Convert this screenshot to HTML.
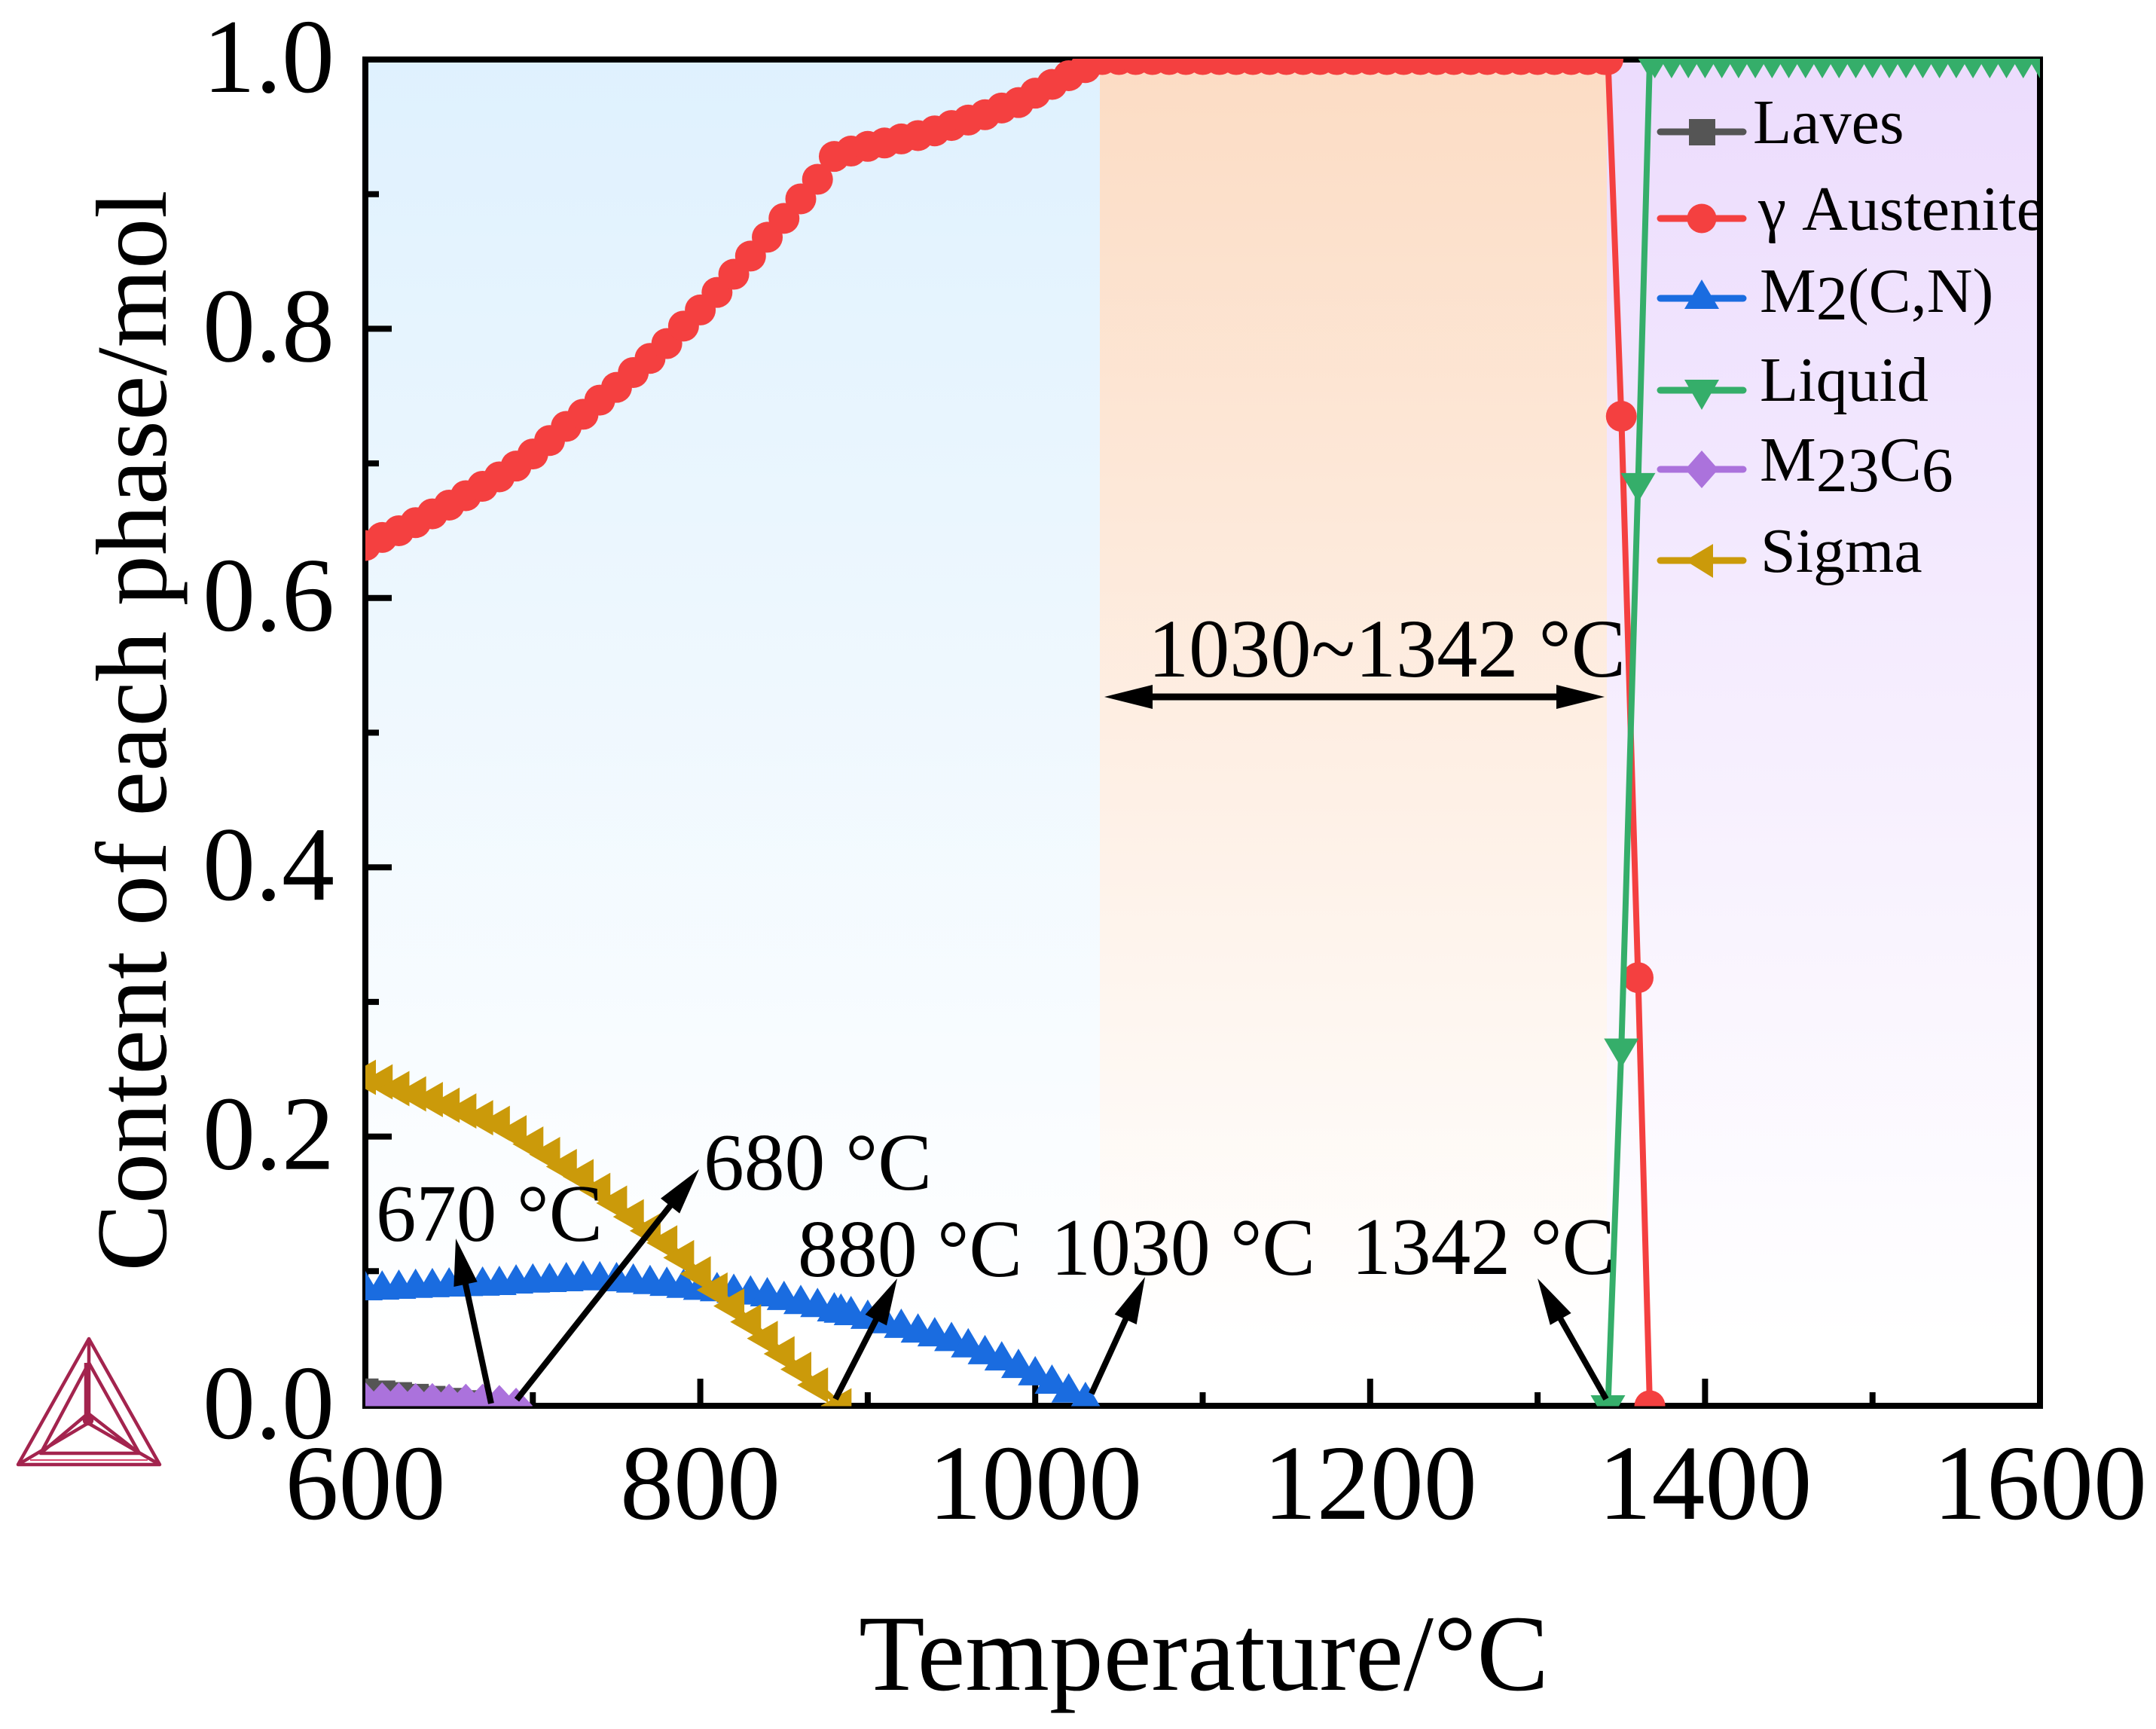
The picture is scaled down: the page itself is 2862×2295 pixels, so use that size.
<!DOCTYPE html>
<html>
<head>
<meta charset="utf-8">
<title>Content of each phase vs temperature</title>
<style>
html,body{margin:0;padding:0;background:#fff;}
svg{display:block;}
text{font-family:"Liberation Serif",serif;fill:#000;}
</style>
</head>
<body>
<svg id="chart" xmlns="http://www.w3.org/2000/svg" width="2862" height="2295" viewBox="0 0 2862 2295">
<defs>
<linearGradient id="gBlue" x1="0" y1="0" x2="0" y2="1"><stop offset="0" stop-color="#dff1fe"/><stop offset="0.95" stop-color="#ffffff"/></linearGradient>
<linearGradient id="gPeach" x1="0" y1="0" x2="0" y2="1"><stop offset="0" stop-color="#fcdcc4"/><stop offset="0.95" stop-color="#ffffff"/></linearGradient>
<linearGradient id="gPurple" x1="0" y1="0" x2="0" y2="1"><stop offset="0" stop-color="#ecdcfd"/><stop offset="0.95" stop-color="#ffffff"/></linearGradient>
<clipPath id="plotClip"><rect x="485" y="78" width="2223" height="1788.5"/></clipPath>
<clipPath id="legendClip"><rect x="2190" y="80" width="516" height="800"/></clipPath>
</defs>

<g>
<rect x="485" y="79" width="975" height="1787" fill="url(#gBlue)"/>
<rect x="1460" y="79" width="673" height="1787" fill="url(#gPeach)"/>
<rect x="2133" y="79" width="575" height="1787" fill="url(#gPurple)"/>
</g>

<g id="axes"></g>
<g id="series" clip-path="url(#plotClip)"></g>

<g id="legend">
<g>
<line x1="2204" y1="175" x2="2314" y2="175" stroke="#555555" stroke-width="9" stroke-linecap="round"/>
<rect x="2242" y="158" width="35" height="35" fill="#555555"/>
</g>
<g>
<line x1="2204" y1="290" x2="2314" y2="290" stroke="#f44040" stroke-width="9" stroke-linecap="round"/>
<circle cx="2259" cy="290" r="19.5" fill="#f44040"/>
</g>
<g>
<line x1="2204" y1="396" x2="2314" y2="396" stroke="#1a6ce0" stroke-width="9" stroke-linecap="round"/>
<polygon points="2259,371 2282,410 2236,410" fill="#1a6ce0"/>
</g>
<g>
<line x1="2204" y1="518" x2="2314" y2="518" stroke="#35ae6a" stroke-width="9" stroke-linecap="round"/>
<polygon points="2236,504 2282,504 2259,544" fill="#35ae6a"/>
</g>
<g>
<line x1="2204" y1="623" x2="2314" y2="623" stroke="#ab72dc" stroke-width="9" stroke-linecap="round"/>
<polygon points="2259,598 2281,623 2259,648 2237,623" fill="#ab72dc"/>
</g>
<g>
<line x1="2204" y1="744" x2="2314" y2="744" stroke="#cb9a0a" stroke-width="9" stroke-linecap="round"/>
<polygon points="2237,744 2274,722 2274,767" fill="#cb9a0a"/>
</g>
<g clip-path="url(#legendClip)" font-size="84">
<text x="2327" y="190">Laves</text>
<text x="2334" y="305">γ Austenite</text>
<text x="2336" y="414">M<tspan dy="10">2</tspan><tspan dy="-10">(C,N)</tspan></text>
<text x="2336" y="532">Liquid</text>
<text x="2336" y="638">M<tspan dy="14">23</tspan><tspan dy="-14">C</tspan><tspan dy="14">6</tspan></text>
<text x="2337" y="759">Sigma</text>
</g>
</g>

<g id="annotations">
<text x="499" y="1647" font-size="108" textLength="301" lengthAdjust="spacingAndGlyphs">670 °C</text>
<text x="934" y="1579" font-size="108" textLength="303" lengthAdjust="spacingAndGlyphs">680 °C</text>
<text x="1059" y="1694" font-size="108" textLength="298" lengthAdjust="spacingAndGlyphs">880 °C</text>
<text x="1395" y="1692" font-size="108" textLength="351" lengthAdjust="spacingAndGlyphs">1030 °C</text>
<text x="1794" y="1691" font-size="108" textLength="350" lengthAdjust="spacingAndGlyphs">1342 °C</text>
<text x="1524" y="898" font-size="110" textLength="634" lengthAdjust="spacingAndGlyphs">1030~1342 °C</text>
</g>

<text transform="translate(220,970) rotate(-90)" text-anchor="middle" font-size="134" textLength="1435" lengthAdjust="spacingAndGlyphs">Content of each phase/mol</text>
<text x="1598" y="2243" text-anchor="middle" font-size="144" textLength="916" lengthAdjust="spacingAndGlyphs">Temperature/°C</text>

<g fill="none" stroke="#a3244e" stroke-width="4.5" stroke-linejoin="round">
<polygon points="118,1777 212,1944 24,1944"/>
<polygon points="118,1809 185,1929 54,1929"/>
<line x1="118" y1="1777" x2="118" y2="1889"/>
<line x1="114" y1="1809" x2="114" y2="1885"/>
<line x1="24" y1="1944" x2="117" y2="1889"/>
<line x1="212" y1="1944" x2="117" y2="1889"/>
<line x1="54" y1="1929" x2="117" y2="1876"/>
<line x1="185" y1="1929" x2="117" y2="1876"/>
<line x1="40" y1="1938" x2="196" y2="1938" stroke="#d9486f" stroke-width="2"/>
<circle cx="117" cy="1885" r="5" fill="#a3244e"/>
</g>

<script>
var temperaturesAustenite = [600,610,620,630,640,650,660,670,680,690,700,710,720,730,740,750,760,770,780,790,800,810,820,830,840,850,860,870,880,890,900,910,920,930,940,950,960,970,980,990,1000,1010,1020,1030,1040,1050,1060,1070,1080,1090,1100,1110,1120,1130,1140,1150,1160,1170,1180,1190,1200,1210,1220,1230,1240,1250,1260,1270,1280,1290,1300,1310,1320,1330,1340,1342,1350,1360,1367];
var valuesAustenite = [.639,.645,.650,.656,.6625,.669,.676,.683,.690,.698,.707,.717,.7275,.7365,.747,.7565,.7675,.778,.789,.802,.814,.827,.8405,.854,.868,.882,.8965,.911,.928,.932,.9355,.938,.941,.9435,.947,.951,.955,.959,.964,.968,.975,.9815,.988,.994,1,1,1,1,1,1,1,1,1,1,1,1,1,1,1,1,1,1,1,1,1,1,1,1,1,1,1,1,1,1,1,1,.735,.318,0];

var temperaturesLiquid = [1342,1350,1360,1367,1370,1380,1390,1400,1410,1420,1430,1440,1450,1460,1470,1480,1490,1500,1510,1520,1530,1540,1550,1560,1570,1580,1590,1600];
var valuesLiquid = [0,.265,.685,1,1,1,1,1,1,1,1,1,1,1,1,1,1,1,1,1,1,1,1,1,1,1,1,1];

var temperaturesM2CN = [600,610,620,630,640,650,660,670,680,690,700,710,720,730,740,750,760,770,780,790,800,810,820,830,840,850,860,870,880,884,890,900,910,920,930,940,950,960,970,980,990,1000,1010,1020,1030,1032];
var valuesM2CN = [.0862,.0867,.0873,.088,.0885,.089,.0893,.0896,.0901,.0912,.0919,.0923,.0929,.094,.0936,.0929,.0919,.0908,.0895,.088,.0865,.0855,.0843,.083,.0817,.079,.076,.0737,.0705,.0695,.0677,.065,.0617,.0583,.0548,.052,.0485,.0438,.0387,.0341,.0285,.023,.0168,.0102,.0039,0];

var temperaturesSigma = [600,610,620,630,640,650,660,670,680,690,700,710,720,730,740,750,760,770,780,790,800,810,820,830,840,850,860,870,884];
var valuesSigma = [.244,.2406,.2356,.2317,.2275,.2233,.219,.214,.2098,.2028,.1944,.1866,.1777,.1702,.16,.1505,.1404,.13,.121,.11,.098,.086,.0741,.0623,.05,.0386,.0271,.0154,0];

var temperaturesLaves = [600,610,620,630,640,650,660,670];
var valuesLaves = [.0105,.009,.0078,.0065,.005,.0035,.0018,0];

var temperaturesM23C6 = [600,610,620,630,640,650,660,670,680,690];
var valuesM23C6 = [.004,.004,.004,.0035,.0035,.003,.003,.003,.002,0];

var xMajorTicks = [600,800,1000,1200,1400,1600];
var xMinorTicks = [700,900,1100,1300,1500];
var yMajorTicks = [0,0.2,0.4,0.6,0.8,1.0];
var yMinorTicks = [0.1,0.3,0.5,0.7,0.9];
var xTickLabels = ['600','800','1000','1200','1400','1600'];
var yTickLabels = ['0.0','0.2','0.4','0.6','0.8','1.0'];

var arrowTails = [[675.1,.0017],[690.4,.0045],[880.7,.005],[1033.6,.009],[1340.9,.005]];
var arrowTips = [[654,.1242],[799.3,.1757],[917.6,.0946],[1065.6,.0957],[1300,.0946]];
var rangeArrowTemperatures = [1041.3,1340];
var rangeArrowValue = .5266;

var NS = 'http://www.w3.org/2000/svg';
function xs(t){ return 485 + (t - 600) * 2.223; }
function ys(v){ return 1866 - v * 1787; }
function mk(tag, attrs, parent){
  var el = document.createElementNS(NS, tag);
  for (var k in attrs) el.setAttribute(k, attrs[k]);
  parent.appendChild(el);
  return el;
}

var axes = document.getElementById('axes');
var series = document.getElementById('series');
var annotations = document.getElementById('annotations');

function drawTicks(){
  xMajorTicks.forEach(function(t, i){
    var tick = mk('line', {x1: xs(t), x2: xs(t), y1: 1866, y2: 1830, stroke: '#000', 'stroke-width': 8}, axes);
    
    
    var lab = mk('text', {x: xs(t), y: 2016, 'text-anchor': 'middle', 'font-size': 142}, axes);
    lab.textContent = xTickLabels[i];
    
    
  });
  xMinorTicks.forEach(function(t){
    var tick = mk('line', {x1: xs(t), x2: xs(t), y1: 1866, y2: 1848, stroke: '#000', 'stroke-width': 8}, axes);
    
    
  });
  yMajorTicks.forEach(function(v, i){
    var tick = mk('line', {x1: 485, x2: 520, y1: ys(v), y2: ys(v), stroke: '#000', 'stroke-width': 8}, axes);
    
    
    var lab = mk('text', {x: 444, y: ys(v) + 43, 'text-anchor': 'end', 'font-size': 140}, axes);
    lab.textContent = yTickLabels[i];
    
    
  });
  yMinorTicks.forEach(function(v){
    var tick = mk('line', {x1: 485, x2: 503, y1: ys(v), y2: ys(v), stroke: '#000', 'stroke-width': 8}, axes);
    
    
  });
  var frame = mk('rect', {x: 485, y: 79, width: 2223, height: 1787, fill: 'none', stroke: '#000', 'stroke-width': 8}, axes);
  
  
}

function marker(shape, x, y, color, parent){
  if (shape === 'circle') return mk('circle', {cx: x, cy: y, r: 20.5, fill: color}, parent);
  if (shape === 'square') return mk('rect', {x: x - 17.5, y: y - 17.5, width: 35, height: 35, fill: color}, parent);
  var pts;
  if (shape === 'up') pts = [[x, y - 25], [x + 23, y + 14], [x - 23, y + 14]];
  if (shape === 'down') pts = [[x - 23, y - 14], [x + 23, y - 14], [x, y + 25]];
  if (shape === 'diamond') pts = [[x, y - 24], [x + 22, y], [x, y + 24], [x - 22, y]];
  if (shape === 'left') pts = [[x - 27, y], [x + 14, y - 23.5], [x + 14, y + 23.5]];
  return mk('polygon', {points: pts.map(function(p){ return p.join(','); }).join(' '), fill: color}, parent);
}

function drawSeries(g, temps, vals, color, shape){
  var d = temps.map(function(t, i){ return xs(t) + ',' + ys(vals[i]); }).join(' ');
  var line = mk('polyline', {points: d, fill: 'none', stroke: color, 'stroke-width': 8, 'stroke-linejoin': 'round'}, g);
  
  
  temps.forEach(function(t, i){
    var m = marker(shape, xs(t), ys(vals[i]), color, g);
    
    
  });
}
function addGroup(name){
  var g = mk('g', {}, series);
  
  
  return g;
}

function arrowHead(tipX, tipY, ux, uy, len, half, parent){
  var bx = tipX - ux * len, by = tipY - uy * len;
  var nx = -uy, ny = ux;
  var head = mk('polygon', {points: tipX + ',' + tipY + ' ' + (bx + nx * half) + ',' + (by + ny * half) + ' ' + (bx - nx * half) + ',' + (by - ny * half), fill: '#000'}, parent);
  
  
}
function drawArrows(){
  arrowTails.forEach(function(a, i){
    var x1 = xs(a[0]), y1 = ys(a[1]), x2 = xs(arrowTips[i][0]), y2 = ys(arrowTips[i][1]);
    var L = Math.hypot(x2 - x1, y2 - y1), ux = (x2 - x1) / L, uy = (y2 - y1) / L;
    var shaft = mk('line', {x1: x1, y1: y1, x2: x2 - ux * 45, y2: y2 - uy * 45, stroke: '#000', 'stroke-width': 8}, annotations);
    
    
    arrowHead(x2, y2, ux, uy, 62, 16, annotations);
  });
  var xa = xs(rangeArrowTemperatures[0]), xb = xs(rangeArrowTemperatures[1]), yr = ys(rangeArrowValue);
  var shaft = mk('line', {x1: xa + 50, y1: yr, x2: xb - 50, y2: yr, stroke: '#000', 'stroke-width': 9}, annotations);
  
  
  arrowHead(xa, yr, -1, 0, 64, 16, annotations);
  arrowHead(xb, yr, 1, 0, 64, 16, annotations);
}

drawTicks();
drawSeries(addGroup('series-laves'), temperaturesLaves, valuesLaves, '#555555', 'square');
drawSeries(addGroup('series-austenite'), temperaturesAustenite, valuesAustenite, '#f44040', 'circle');
drawSeries(addGroup('series-m2cn'), temperaturesM2CN, valuesM2CN, '#1a6ce0', 'up');
drawSeries(addGroup('series-liquid'), temperaturesLiquid, valuesLiquid, '#35ae6a', 'down');
drawSeries(addGroup('series-m23c6'), temperaturesM23C6, valuesM23C6, '#ab72dc', 'diamond');
drawSeries(addGroup('series-sigma'), temperaturesSigma, valuesSigma, '#cb9a0a', 'left');
drawArrows();
</script>
</svg>
</body>
</html>
